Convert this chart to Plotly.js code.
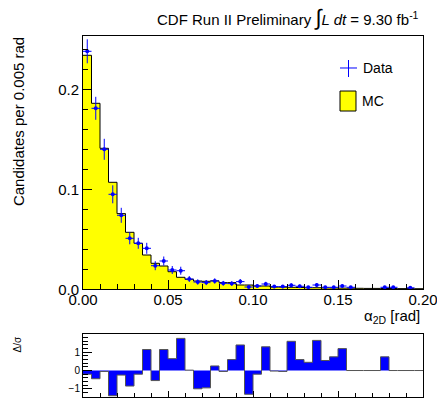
<!DOCTYPE html>
<html>
<head>
<meta charset="utf-8">
<script src="https://cdn.plot.ly/plotly-3.0.1.min.js"></script>
<style>html,body{margin:0;padding:0;background:#fff;}#chart{width:437px;height:401px;}</style>
</head>
<body>
<div id="chart"></div>
<script>
// bin centres (rad), bin width 0.005
const binCenters = [0.0025,0.0075,0.0125,0.0175,0.0225,0.0275,0.0325,0.0375,0.0425,0.0475,
  0.0525,0.0575,0.0625,0.0675,0.0725,0.0775,0.0825,0.0875,0.0925,0.0975,
  0.1025,0.1075,0.1125,0.1175,0.1225,0.1275,0.1325,0.1375,0.1425,0.1475,
  0.1525,0.1575,0.1625,0.1675,0.1725,0.1775,0.1825,0.1875,0.1925,0.1975];
const binWidth = 0.005;

// x tick labels
const xTickVals = [0, 0.05, 0.10, 0.15, 0.20];
const xTickText = ['0.00', '0.05', '0.10', '0.15', '0.20'];

// MC histogram (candidates per 0.005 rad)
const mcValues = [0.234,0.186,0.141,0.107,0.0757,0.057,0.046,0.0343,0.026,0.0233,
  0.0176,0.012,0.010,0.0083,0.008,0.0085,0.0067,0.0067,0.0043,0.0043,
  0.0033,0.0033,0.0022,0.0022,0.002,0.0018,0.0016,0.0016,0.0014,0.0013,
  0.0012,0.0011,0.001,0.0009,0.0009,0.0008,0.0008,0.0007,0.0007,0.0006];

// Data points and errors
const dataValues = [0.238,0.181,0.140,0.095,0.074,0.051,0.046,0.041,0.0236,0.0283,
  0.0193,0.0186,0.0103,0.0073,0.0067,0.0083,0.006,0.0057,0.0077,0.0023,
  0.0033,0.0053,0.0027,0.0027,0.004,0.003,0.002,0.0043,0.002,0.002,
  0.0033,0.002,null,null,null,0.002,0.002,null,0.0015,null];
const dataErrors = [0.012,0.0115,0.0105,0.009,0.0075,0.006,0.0055,0.0055,0.0045,0.0045,
  0.004,0.004,0.003,0.0027,0.0025,0.0027,0.0024,0.0023,0.0026,0.0015,
  0.0017,0.0022,0.0016,0.0016,0.002,0.0017,0.0014,0.002,0.0014,0.0014,
  0.0017,0.0014,null,null,null,0.0014,0.0014,null,0.0012,null];

// Residuals (Delta / sigma)
const residuals = [-0.2,-0.45,-0.05,-1.38,-0.25,-0.85,-0.2,1.15,-0.55,1.15,
  0.65,1.76,0.02,-1.0,-0.95,0.25,-0.05,0.6,1.4,-1.3,
  -0.2,1.3,-0.03,-0.05,1.6,0.6,0.45,1.65,0.55,0.75,
  1.2,0,0,0,0,0.75,0,0,0,0];

// step helper: low edges + final upper edge
function stepX(){ const xs = binCenters.map(c => c - binWidth/2); xs.push(binCenters[binCenters.length-1] + binWidth/2); return xs; }
function stepY(v){ const ys = v.slice(); ys.push(v[v.length-1]); return ys; }

const FONT = 'Liberation Sans, Arial, Helvetica, sans-serif';

const traces = [
  {
    x: stepX(), y: stepY(mcValues), xaxis: 'x', yaxis: 'y',
    type: 'scatter', mode: 'lines', line: {shape: 'hv', color: '#000', width: 1},
    fill: 'tozeroy', fillcolor: '#ffff00', name: 'MC', showlegend: false, hoverinfo: 'skip'
  },
  {
    x: binCenters, y: dataValues, xaxis: 'x', yaxis: 'y',
    type: 'scatter', mode: 'markers', name: 'Data', showlegend: false,
    marker: {color: '#0000ff', size: 4},
    error_y: {type: 'data', array: dataErrors, visible: true, color: '#0000ff', thickness: 1, width: 0},
    error_x: {type: 'constant', value: binWidth/2, visible: true, color: '#0000ff', thickness: 1, width: 0}
  },
  {
    x: stepX(), y: stepY(residuals), xaxis: 'x2', yaxis: 'y2',
    type: 'scatter', mode: 'lines', line: {shape: 'hv', color: '#555', width: 1},
    fill: 'tozeroy', fillcolor: '#0000ff', showlegend: false, hoverinfo: 'skip'
  }
];

const axisCommon = {showgrid: false, zeroline: false, showline: true, linecolor: '#000', linewidth: 1, mirror: true, ticks: 'inside', tickcolor: '#000'};

const layout = {
  width: 437, height: 401,
  margin: {l: 83, r: 14, t: 36, b: 4},
  paper_bgcolor: '#fff', plot_bgcolor: '#fff',
  font: {family: FONT, size: 15, color: '#000'},
  showlegend: false,
  xaxis: Object.assign({}, axisCommon, {
    domain: [0, 1], anchor: 'y', range: [0, 0.2], tickmode: 'array', tickvals: xTickVals, ticktext: xTickText,
    ticklen: 9, tickfont: {size: 15}, ticklabeloverflow: 'allow', ticklabelstandoff: -3,
    minor: {dtick: 0.01, ticklen: 5, ticks: 'inside', tickcolor: '#000', tickmode: 'linear', tick0: 0}
  }),
  yaxis: Object.assign({}, axisCommon, {
    domain: [0.2983, 1], anchor: 'x', range: [0, 0.2533], dtick: 0.1, tickformat: '.1f',
    ticklen: 9, tickfont: {size: 15},
    minor: {dtick: 0.02, ticklen: 5, ticks: 'inside', tickcolor: '#000'}
  }),
  xaxis2: Object.assign({}, axisCommon, {
    domain: [0, 1], anchor: 'y2', range: [0, 0.2], dtick: 0.05, showticklabels: false,
    ticklen: 6,
    minor: {dtick: 0.01, ticklen: 4, ticks: 'inside', tickcolor: '#000'}
  }),
  yaxis2: Object.assign({}, axisCommon, {
    domain: [0, 0.1745], anchor: 'x2', range: [-1.45, 2.0], tickvals: [-1, 0, 1],
    ticklen: 9, tickfont: {size: 10},
    minor: {dtick: 0.2, ticklen: 5, ticks: 'inside', tickcolor: '#000'}
  }),
  shapes: [
    // legend: data cross
    {type: 'line', xref: 'paper', yref: 'paper', x0: 0.7559, x1: 0.8059, y0: 0.9114, y1: 0.9114, line: {color: '#0000ff', width: 1}},
    {type: 'line', xref: 'paper', yref: 'paper', x0: 0.7809, x1: 0.7809, y0: 0.8864, y1: 0.9335, line: {color: '#0000ff', width: 1}},
    // legend: MC box
    {type: 'rect', xref: 'paper', yref: 'paper', x0: 0.7559, x1: 0.8029, y0: 0.7922, y1: 0.8476, fillcolor: '#ffff00', line: {color: '#000', width: 1}}
  ],
  annotations: [
    {xref: 'paper', yref: 'paper', x: 0.994, y: 1.05, xanchor: 'right', yanchor: 'middle', showarrow: false,
     text: "CDF Run II Preliminary <span style='font-size:22px'>∫</span><i>L dt</i> = 9.30 fb<sup>-1</sup>", font: {size: 15}},
    {xref: 'paper', yref: 'paper', x: 0.996, y: 0.222, xanchor: 'right', yanchor: 'middle', showarrow: false,
     text: 'α<sub>2D</sub> [rad]', font: {size: 15}},
    {xref: 'paper', yref: 'paper', x: -0.19, y: 0.7626, xanchor: 'center', yanchor: 'middle', showarrow: false, textangle: -90,
     text: 'Candidates per 0.005 rad', font: {size: 15}},
    {xref: 'paper', yref: 'paper', x: -0.194, y: 0.1454, xanchor: 'center', yanchor: 'middle', showarrow: false, textangle: -90,
     text: 'Δ/σ', font: {size: 10}},
    {xref: 'paper', yref: 'paper', x: 0.8176, y: 0.9114, xanchor: 'left', yanchor: 'middle', showarrow: false,
     text: 'Data', font: {size: 14}},
    {xref: 'paper', yref: 'paper', x: 0.8147, y: 0.820, xanchor: 'left', yanchor: 'middle', showarrow: false,
     text: 'MC', font: {size: 14}}
  ]
};

Plotly.newPlot('chart', traces, layout, {displayModeBar: false, staticPlot: true});
</script>
</body>
</html>
